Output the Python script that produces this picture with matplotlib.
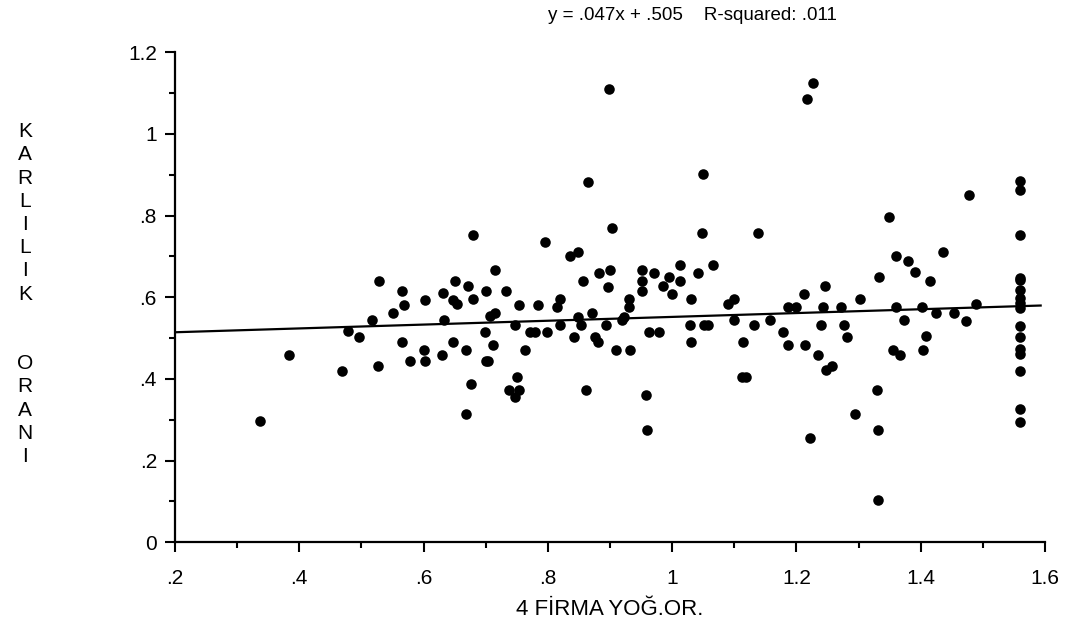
import numpy as np
import matplotlib
matplotlib.use('Agg')
import matplotlib.pyplot as plt
from matplotlib.ticker import MultipleLocator, FuncFormatter

## data: 4-firm concentration ratio vs profitability ratio
conc = [0.337, 0.384, 0.469, 0.478, 0.496, 0.517, 0.528, 0.526, 0.550, 0.565,
        0.569, 0.566, 0.578, 0.602, 0.600, 0.603, 0.630, 0.632, 0.633,
        0.647, 0.653, 0.679, 0.650, 0.672, 0.680, 0.647, 0.669, 0.677, 0.669,
        0.715, 0.701, 0.733, 0.707, 0.715, 0.699, 0.712, 0.700, 0.704, 0.754,
        0.747, 0.764, 0.751, 0.738, 0.747, 0.754, 0.784, 0.771, 0.779, 0.798,
        0.796, 0.820, 0.814, 0.820, 0.835, 0.849, 0.857, 0.848, 0.854, 0.842,
        0.871, 0.862, 0.876, 0.881, 0.894, 0.904, 0.883, 0.900, 0.897, 0.910,
        0.919, 0.923, 0.931, 0.931, 0.932, 0.952, 0.952, 0.952, 0.970, 0.962,
        0.979, 0.958, 0.959, 0.986, 0.995, 1.000, 1.013, 1.013, 1.030, 1.028,
        1.031, 1.048, 1.042, 1.065, 1.051, 1.058,
        0.898, 1.226, 1.217, 0.865, 1.050,
        1.349, 1.478,
        1.138, 1.090, 1.100, 1.100, 1.114, 1.113, 1.119, 1.131, 1.158, 1.179,
        1.187, 1.187, 1.200, 1.212, 1.214, 1.222, 1.234, 1.246, 1.242, 1.239,
        1.248, 1.257, 1.272, 1.277, 1.281, 1.294, 1.302, 1.329, 1.331, 1.333,
        1.360, 1.360, 1.373, 1.355, 1.366, 1.380, 1.390, 1.402, 1.409, 1.403,
        1.415, 1.425, 1.436, 1.454, 1.473, 1.489, 1.331,
        1.56, 1.56, 1.56, 1.56, 1.56, 1.56, 1.56, 1.56, 1.56, 1.56,
        1.56, 1.56, 1.56, 1.56, 1.56, 1.56]
karlilik = [0.296, 0.458, 0.420, 0.517, 0.504, 0.545, 0.640, 0.431, 0.561, 0.616,
            0.581, 0.491, 0.444, 0.594, 0.471, 0.444, 0.459, 0.610, 0.545,
            0.593, 0.583, 0.752, 0.641, 0.628, 0.595, 0.491, 0.471, 0.387, 0.314,
            0.667, 0.616, 0.615, 0.553, 0.562, 0.515, 0.483, 0.445, 0.445, 0.581,
            0.531, 0.471, 0.405, 0.373, 0.356, 0.373, 0.581, 0.515, 0.515, 0.515,
            0.736, 0.595, 0.577, 0.531, 0.700, 0.712, 0.640, 0.551, 0.531, 0.503,
            0.562, 0.373, 0.503, 0.491, 0.531, 0.770, 0.660, 0.667, 0.626, 0.471,
            0.545, 0.551, 0.595, 0.577, 0.471, 0.667, 0.640, 0.616, 0.660, 0.515,
            0.515, 0.360, 0.276, 0.628, 0.649, 0.609, 0.680, 0.640, 0.595, 0.531,
            0.491, 0.758, 0.660, 0.680, 0.531, 0.531,
            1.110, 1.124, 1.085, 0.882, 0.902,
            0.797, 0.850,
            0.758, 0.583, 0.595, 0.545, 0.491, 0.405, 0.405, 0.531, 0.545, 0.515,
            0.483, 0.577, 0.577, 0.609, 0.483, 0.256, 0.459, 0.628, 0.577, 0.531,
            0.422, 0.432, 0.577, 0.531, 0.503, 0.314, 0.595, 0.373, 0.276, 0.649,
            0.702, 0.577, 0.545, 0.471, 0.459, 0.688, 0.661, 0.577, 0.505, 0.471,
            0.641, 0.562, 0.712, 0.562, 0.543, 0.583, 0.104,
            0.886, 0.863, 0.753, 0.648, 0.642, 0.618, 0.598, 0.585, 0.573, 0.530,
            0.504, 0.473, 0.461, 0.420, 0.326, 0.295]

slope = 0.047
intercept = 0.505
r2 = 0.011
xticks = [0.2, 0.4, 0.6, 0.8, 1.0, 1.2, 1.4, 1.6]
yticks = [0, 0.2, 0.4, 0.6, 0.8, 1.0, 1.2]

plt.rcParams['font.family'] = ['Liberation Sans', 'DejaVu Sans']

def short_lbl(v, pos=None):
    ## old stat-package style: .2 instead of 0.2
    s = ('%.1f' % v).rstrip('0').rstrip('.')
    if s.startswith('0.'):
        s = s[1:]
    return s

fig = plt.figure(figsize=(10.75, 6.21), dpi=100)
ax = fig.add_axes([0.1628, 0.1267, 0.8093, 0.7891])

ax.plot(conc, karlilik, 'o', color='black', ms=7.6, mew=0)
xl = np.array([0.2, 1.593])
ax.plot(xl, slope * xl + intercept, 'k-', linewidth=1.6)

ax.set_xlim(0.2, 1.6)
ax.set_ylim(0, 1.2)
ax.set_xticks(xticks)
ax.set_yticks(yticks)
ax.xaxis.set_minor_locator(MultipleLocator(0.1))
ax.yaxis.set_minor_locator(MultipleLocator(0.1))
ax.xaxis.set_major_formatter(FuncFormatter(short_lbl))
ax.yaxis.set_major_formatter(FuncFormatter(short_lbl))
ax.tick_params(which='major', direction='out', length=7, width=1.5, labelsize=15, pad=6)
ax.tick_params(axis='x', which='major', pad=12)
ax.tick_params(which='minor', direction='out', length=4, width=1.5)
ax.spines['top'].set_visible(False)
ax.spines['right'].set_visible(False)
ax.spines['left'].set_linewidth(1.6)
ax.spines['bottom'].set_linewidth(1.6)

ax.set_xlabel('4 FİRMA YOĞ.OR.', fontsize=16, labelpad=8)

## y label is stacked letter by letter
ylab = '\n'.join(list('KARLILIK')) + '\n\n\n' + '\n'.join(list('ORANI'))
fig.text(25 / 1075, 1 - 294 / 621, ylab, ha='center', va='center',
         fontsize=15, linespacing=1.28)

fig.text(692 / 1075, 1 - 16 / 621,
         'y = %sx + %s    R-squared: %s' % ('.047', '.505', '.011'),
         ha='center', va='center', fontsize=13.5)

plt.savefig('out.png', dpi=100)
